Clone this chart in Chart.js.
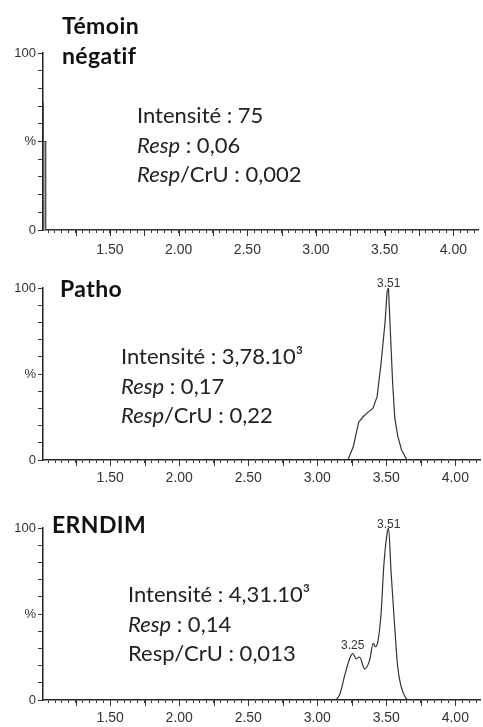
<!DOCTYPE html>
<html>
<head>
<meta charset="utf-8">
<script src="https://cdn.jsdelivr.net/npm/chart.js@4.4.0/dist/chart.umd.min.js"></script>
<style>
  body { margin: 0; background: #fff; width: 483px; height: 727px; position: relative; overflow: hidden; }
  .panel { position: absolute; left: 0; width: 483px; }
</style>
</head>
<body>
<div class="panel" style="top:0;height:262px"><canvas id="negChart"></canvas></div>
<div class="panel" style="top:262px;height:228px"><canvas id="pathoChart"></canvas></div>
<div class="panel" style="top:490px;height:237px"><canvas id="erndimChart"></canvas></div>
<script>
// retention time axis (min) and relative intensity (%)
const xMin = 1.013;
const xMax = 4.18;
const xLabelTicks = [1.5, 2.0, 2.5, 3.0, 3.5, 4.0];
const yTickLabels = { 0: "0", 50: "%", 100: "100" };

const negTimes = [1.013, 1.013, 1.015, 1.015, 1.033, 1.033, 4.18];
const negIntensity = [0, 72, 50, 50, 50, 0, 0];

const pathoTimes = [1.013, 3.222, 3.262, 3.300, 3.330, 3.370, 3.403, 3.434, 3.462, 3.491, 3.506, 3.516, 3.530, 3.546, 3.562, 3.583, 3.610, 3.650, 4.18];
const pathoIntensity = [0, 0, 8, 22, 25, 28, 30, 37, 56, 80, 98, 100, 74, 45, 24, 14, 6, 0, 0];
const pathoPeaks = [3.51];

const erndimTimes = [1.013, 3.114, 3.162, 3.198, 3.234, 3.258, 3.282, 3.307, 3.343, 3.379, 3.405, 3.420, 3.439, 3.462, 3.482, 3.506, 3.516, 3.535, 3.559, 3.583, 3.607, 3.643, 3.668, 4.18];
const erndimIntensity = [0, 0, 3, 14, 24, 27, 24, 25, 18, 23, 33, 31, 34, 50, 78, 97, 100, 74, 45, 19, 8, 1, 0, 0];
const erndimPeaks = [3.25, 3.51];

const minorTicks = [];
for (let k = Math.ceil(xMin / 0.05); k * 0.05 <= xMax + 1e-9; k++) {
  minorTicks.push(Math.round(k * 5) / 100);
}

const labelFont = "Lato, 'Open Sans', sans-serif";
const axisFont = "'Liberation Sans', Arial, sans-serif";

function drawLine(ctx, x, y, parts) {
  let cx = x;
  parts.forEach((p) => {
    ctx.font = (p.i ? "italic " : "") + "22px " + labelFont;
    ctx.fillText(p.t, cx, y);
    cx += ctx.measureText(p.t).width;
  });
}

function makeChart(id, times, values, cfg) {
  const points = times.map((t, i) => ({ x: t, y: values[i] }));
  const textPlugin = {
    id: "panelText",
    afterDraw(chart) {
      const ctx = chart.ctx;
      const xs = chart.scales.x;
      const ys = chart.scales.y;
      ctx.save();
      // longer ticks every 0.25
      ctx.strokeStyle = "#333";
      ctx.lineWidth = 1;
      for (let k = Math.ceil(xMin / 0.25); k * 0.25 <= xMax; k++) {
        const px = Math.round(xs.getPixelForValue(k * 0.25)) + 0.5;
        ctx.beginPath();
        ctx.moveTo(px, ys.bottom);
        ctx.lineTo(px, ys.bottom + 6);
        ctx.stroke();
      }
      // title
      ctx.fillStyle = "#111";
      ctx.textBaseline = "alphabetic";
      ctx.textAlign = "left";
      ctx.font = "bold 23px " + labelFont;
      ctx.letterSpacing = "0.4px";
      cfg.title.forEach((line, i) => ctx.fillText(line, cfg.titleX, cfg.titleY + i * 30));
      ctx.letterSpacing = "0px";
      // info lines
      ctx.fillStyle = "#222";
      cfg.info.forEach((parts, i) => drawLine(ctx, cfg.infoX, cfg.infoY + i * 29.5, parts));
      // peak labels
      ctx.font = "12px " + axisFont;
      ctx.fillStyle = "#333";
      ctx.textAlign = "center";
      ctx.textBaseline = "bottom";
      (cfg.peaks || []).forEach((pk) => {
        let best = 0;
        times.forEach((t, i) => {
          if (Math.abs(t - pk) < Math.abs(times[best] - pk)) best = i;
        });
        const px = xs.getPixelForValue(pk);
        const py = ys.getPixelForValue(values[best]);
        ctx.fillText(pk.toFixed(2), px + 1, py - 2);
      });
      ctx.restore();
    },
  };

  return new Chart(document.getElementById(id).getContext("2d"), {
    type: "line",
    data: {
      datasets: [
        {
          data: points,
          borderColor: cfg.lineColor || "#333",
          borderWidth: 1.2,
          pointRadius: 0,
          fill: cfg.fill ? "origin" : false,
          backgroundColor: cfg.fill || "transparent",
          cubicInterpolationMode: cfg.smooth ? "monotone" : "default",
          tension: 0,
        },
      ],
    },
    options: {
      responsive: true,
      maintainAspectRatio: false,
      animation: false,
      layout: { padding: { top: cfg.top, left: 0, right: 0, bottom: 0 } },
      plugins: { legend: { display: false }, tooltip: { enabled: false } },
      scales: {
        x: {
          type: "linear",
          min: xMin,
          max: xMax,
          afterBuildTicks: (s) => {
            s.ticks = minorTicks.map((v) => ({ value: v }));
          },
          afterFit: (s) => {
            s.height = cfg.xHeight;
          },
          ticks: {
            autoSkip: false,
            maxRotation: 0,
            padding: cfg.labelPad,
            color: "#333",
            font: { family: axisFont, size: 14 },
            callback: (v) =>
              xLabelTicks.some((l) => Math.abs(l - v) < 1e-6) ? v.toFixed(2) : "",
          },
          grid: { drawOnChartArea: false, tickLength: 3, tickColor: "#333" },
          border: { color: "#222", width: 1.5 },
        },
        y: {
          min: 0,
          max: 100,
          afterFit: (s) => {
            s.width = 43;
          },
          ticks: {
            stepSize: 10,
            autoSkip: false,
            padding: 2,
            color: "#333",
            font: { family: axisFont, size: 13 },
            callback: (v) => yTickLabels[v] ?? "",
          },
          grid: { drawOnChartArea: false, tickLength: 5, tickColor: "#333" },
          border: { color: "#222", width: 1.5 },
        },
      },
    },
    plugins: [textPlugin],
  });
}

makeChart("negChart", negTimes, negIntensity, {
  top: 53,
  xHeight: 32,
  labelPad: 9,
  fill: "#aaa",
  lineColor: "#444",
  title: ["Témoin", "négatif"],
  titleX: 62,
  titleY: 34,
  info: [
    [{ t: "Intensité : 75" }],
    [{ t: "Resp", i: true }, { t: " : 0,06" }],
    [{ t: "Resp", i: true }, { t: "/CrU : 0,002" }],
  ],
  infoX: 137,
  infoY: 123,
});

makeChart("pathoChart", pathoTimes, pathoIntensity, {
  top: 26,
  xHeight: 30,
  labelPad: 7,
  title: ["Patho"],
  titleX: 60,
  titleY: 35,
  info: [
    [{ t: "Intensité : 3,78.10³" }],
    [{ t: "Resp", i: true }, { t: " : 0,17" }],
    [{ t: "Resp", i: true }, { t: "/CrU : 0,22" }],
  ],
  infoX: 121,
  infoY: 102,
  peaks: pathoPeaks,
});

makeChart("erndimChart", erndimTimes, erndimIntensity, {
  top: 38,
  xHeight: 27,
  labelPad: 7,
  smooth: true,
  title: ["ERNDIM"],
  titleX: 52,
  titleY: 43,
  info: [
    [{ t: "Intensité : 4,31.10³" }],
    [{ t: "Resp", i: true }, { t: " : 0,14" }],
    [{ t: "Resp/CrU : 0,013" }],
  ],
  infoX: 128,
  infoY: 112,
  peaks: erndimPeaks,
});
</script>
</body>
</html>
